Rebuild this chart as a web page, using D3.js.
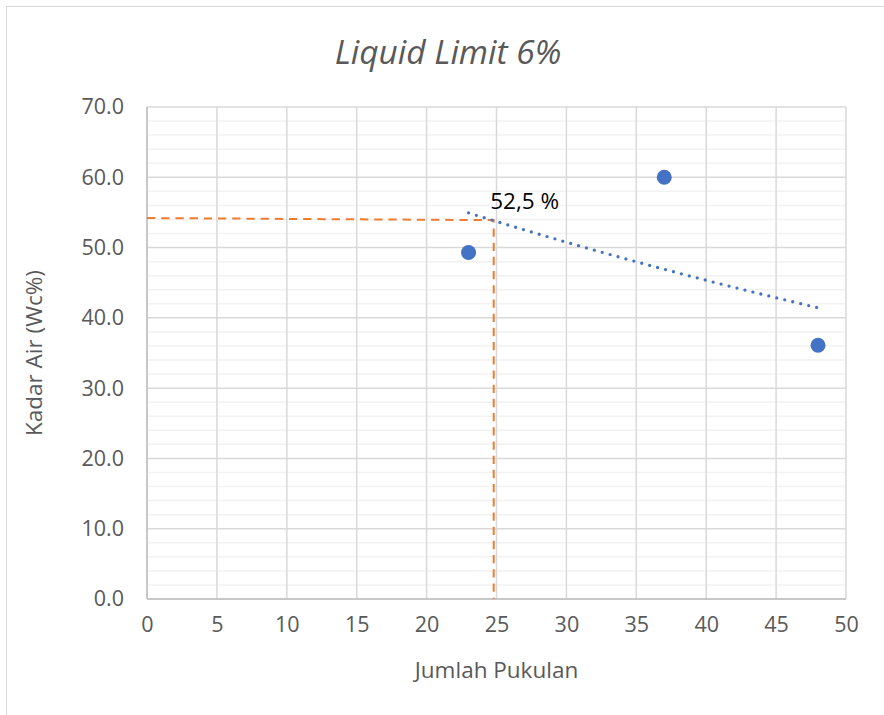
<!DOCTYPE html>
<html>
<head>
<meta charset="utf-8">
<script src="https://cdn.jsdelivr.net/npm/d3@7"></script>
<style>
  body { margin: 0; background: #fff; }
  svg text { font-family: "Open Sans", "Noto Sans", sans-serif; fill: #595959; }
</style>
</head>
<body>
<div id="chart"></div>
<script>
// data
var blows = [23, 37, 48];
var waterContent = [49.3, 60.0, 36.1];
var guideX = [0, 24.8, 24.8];
var guideY = [54.2, 53.9, 0];
var xTicks = [0, 5, 10, 15, 20, 25, 30, 35, 40, 45, 50];
var yTicks = [0, 10, 20, 30, 40, 50, 60, 70];
var chartTitle = "Liquid Limit 6%";
var resultLabel = "52,5 %";

var width = 884, height = 715;
var margin = {top: 107, right: 38, bottom: 116, left: 147};

var svg = d3.select("#chart").append("svg")
    .attr("width", width)
    .attr("height", height);

// chart frame
svg.append("rect")
    .attr("x", 6.5).attr("y", 6.5)
    .attr("width", 1000).attr("height", 1000)
    .attr("fill", "#fff")
    .attr("stroke", "#d9d9d9");

var x = d3.scaleLinear().domain([0, 50]).range([margin.left, width - margin.right]);
var y = d3.scaleLinear().domain([0, 70]).range([height - margin.bottom, margin.top]);

// minor horizontal gridlines every 2
var minor = d3.range(0, 70.001, 2).filter(function(v){ return v % 10 !== 0; });
svg.append("g").selectAll("line").data(minor).enter().append("line")
    .attr("x1", x(0)).attr("x2", x(50))
    .attr("y1", function(d){ return y(d); })
    .attr("y2", function(d){ return y(d); })
    .attr("stroke", "#f2f2f2")
    .attr("stroke-width", 1.5);

// major gridlines
svg.append("g").selectAll("line").data(yTicks).enter().append("line")
    .attr("x1", x(0)).attr("x2", x(50))
    .attr("y1", function(d){ return y(d); })
    .attr("y2", function(d){ return y(d); })
    .attr("stroke", "#d9d9d9")
    .attr("stroke-width", 1.5);
svg.append("g").selectAll("line").data(xTicks).enter().append("line")
    .attr("y1", y(0)).attr("y2", y(70))
    .attr("x1", function(d){ return x(d); })
    .attr("x2", function(d){ return x(d); })
    .attr("stroke", "#d9d9d9")
    .attr("stroke-width", 1.5);

// axes lines
svg.append("line")
    .attr("x1", x(0)).attr("x2", x(50)).attr("y1", y(0)).attr("y2", y(0))
    .attr("stroke", "#bfbfbf").attr("stroke-width", 1.5);
svg.append("line")
    .attr("x1", x(0)).attr("x2", x(0)).attr("y1", y(0)).attr("y2", y(70))
    .attr("stroke", "#bfbfbf").attr("stroke-width", 1.5);

// tick labels
var xAxis = d3.axisBottom(x).tickValues(xTicks).tickSize(0).tickPadding(18);
var gx = svg.append("g").attr("transform", "translate(0," + y(0) + ")").call(xAxis);
gx.select(".domain").remove();
gx.selectAll("text").style("font-size", "21.5px").attr("fill", "#595959");

var yAxis = d3.axisLeft(y).tickValues(yTicks).tickSize(0).tickPadding(23)
    .tickFormat(d3.format(".1f"));
var gy = svg.append("g").attr("transform", "translate(" + x(0) + ",0)").call(yAxis);
gy.select(".domain").remove();
gy.selectAll("text").style("font-size", "21.5px").attr("fill", "#595959");

// guide lines (orange dashed)
var line = d3.line()
    .x(function(d){ return x(d[0]); })
    .y(function(d){ return y(d[1]); });
svg.append("path")
    .datum(d3.zip(guideX, guideY))
    .attr("d", line)
    .attr("fill", "none")
    .attr("stroke", "#ED7D31")
    .attr("stroke-width", 2)
    .attr("stroke-dasharray", "8.3 5.9");

// exponential trendline fitted to the points (ln y linear in x)
var lnY = waterContent.map(Math.log);
var mx = d3.mean(blows), my = d3.mean(lnY);
var sxy = d3.sum(blows, function(v, i){ return (v - mx) * (lnY[i] - my); });
var sxx = d3.sum(blows, function(v){ return (v - mx) * (v - mx); });
var slope = sxy / sxx, icpt = my - slope * mx;
var trendPts = d3.range(0, 51).map(function(i){
    var xv = d3.min(blows) + (d3.max(blows) - d3.min(blows)) * i / 50;
    return [xv, Math.exp(icpt + slope * xv)];
});
svg.append("path")
    .datum(trendPts)
    .attr("d", line)
    .attr("fill", "none")
    .attr("stroke", "#4472C4")
    .attr("stroke-width", 3.3)
    .attr("stroke-linecap", "round")
    .attr("stroke-dasharray", "0 8.2");

// points
svg.append("g").selectAll("circle").data(d3.zip(blows, waterContent)).enter().append("circle")
    .attr("cx", function(d){ return x(d[0]); })
    .attr("cy", function(d){ return y(d[1]); })
    .attr("r", 7.5)
    .attr("fill", "#4472C4");

// result label
svg.append("text")
    .attr("x", x(24.55))
    .attr("y", y(55.5))
    .style("font-size", "22.5px")
    .style("fill", "#000")
    .text(resultLabel);

// title
svg.append("text")
    .attr("x", 448).attr("y", 64)
    .attr("text-anchor", "middle")
    .style("font-size", "33.5px")
    .style("font-style", "italic")
    .text(chartTitle);

// axis titles
svg.append("text")
    .attr("x", (x(0) + x(50)) / 2).attr("y", 678)
    .attr("text-anchor", "middle")
    .style("font-size", "22.5px")
    .text("Jumlah Pukulan");
svg.append("text")
    .attr("transform", "translate(42," + ((y(0) + y(70)) / 2) + ") rotate(-90)")
    .attr("text-anchor", "middle")
    .style("font-size", "22.5px")
    .text("Kadar Air (Wc%)");
</script>
</body>
</html>
